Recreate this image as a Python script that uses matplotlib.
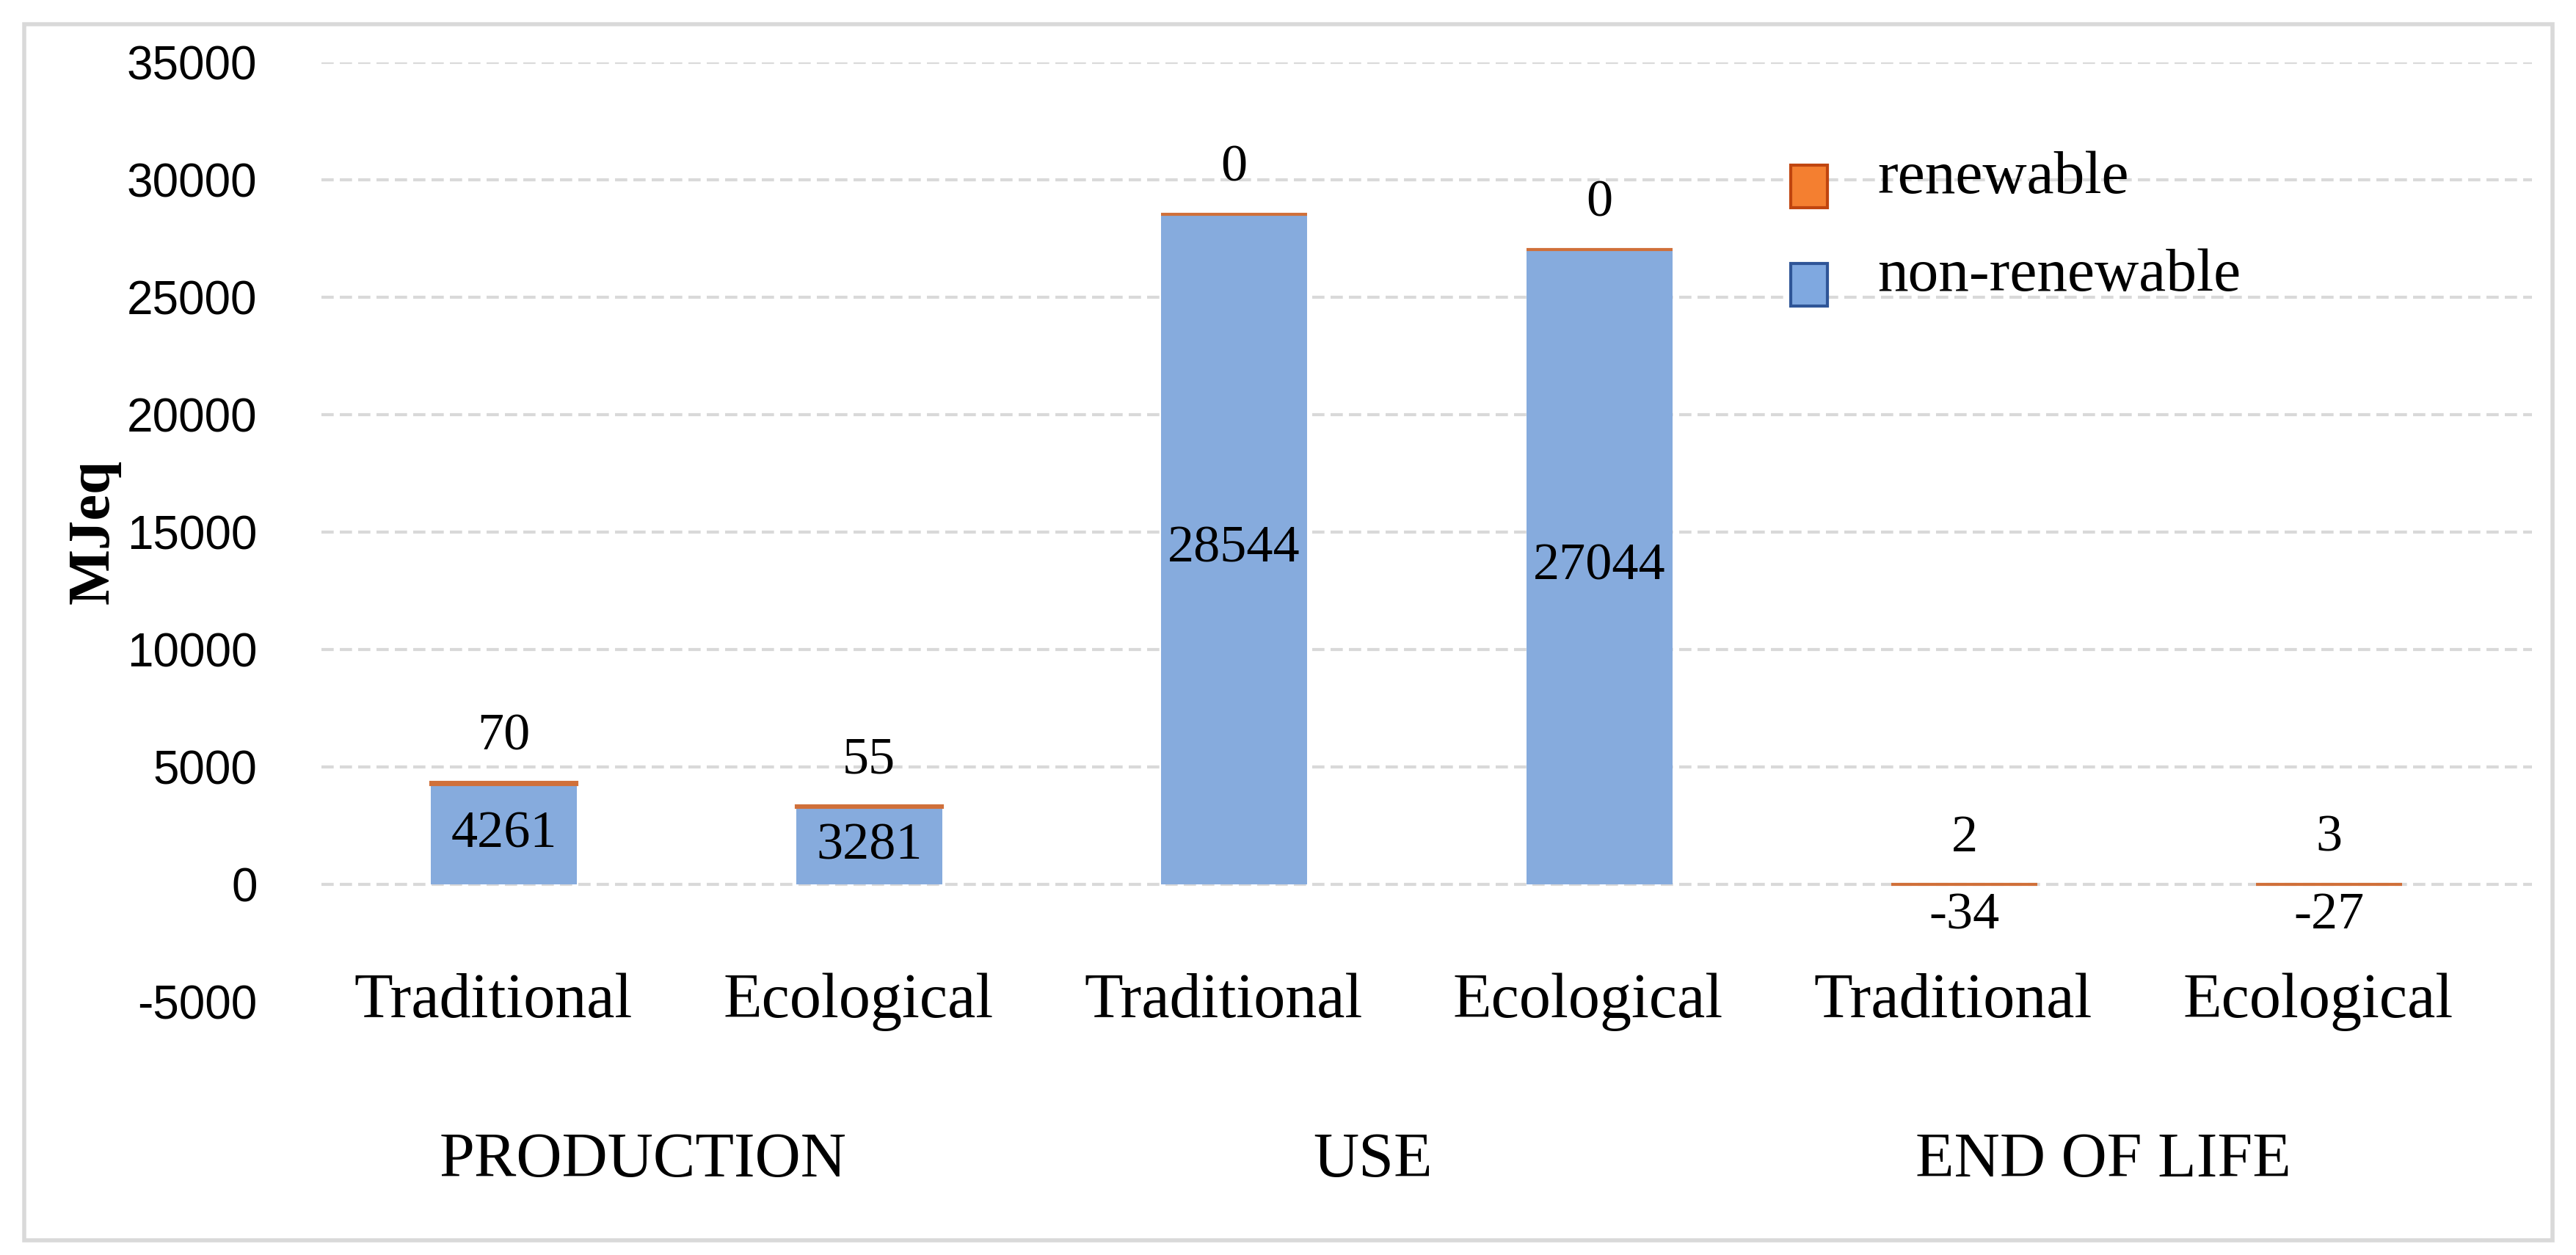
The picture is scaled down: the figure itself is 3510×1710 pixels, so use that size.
import matplotlib
matplotlib.use("Agg")
import matplotlib.pyplot as plt
import matplotlib.transforms as mtransforms
from matplotlib.patches import Patch, Rectangle
from matplotlib.legend_handler import HandlerPatch
import numpy as np

# dados
groups = ["PRODUCTION", "USE", "END OF LIFE"]
variants = ["Traditional", "Ecological", "Traditional", "Ecological", "Traditional", "Ecological"]
non_renewable = [4261, 3281, 28544, 27044, -34, -27]
renewable = [70, 55, 0, 0, 2, 3]
yticks = [-5000, 0, 5000, 10000, 15000, 20000, 25000, 30000, 35000]

BLUE = "#86ABDD"
ORANGE = "#ED7D31"
SERIF = "Liberation Serif"
SANS = "Liberation Sans"

fig = plt.figure(figsize=(35.1, 17.1), dpi=100)
ax = fig.add_axes([438 / 3510, 1 - 1365 / 1710, (3450 - 438) / 3510, 1280 / 1710])

x = np.arange(len(variants))
bottoms = [max(v, 0) for v in non_renewable]

ax.bar(x, non_renewable, width=0.4, color=BLUE, zorder=3)
ax.bar(x, renewable, width=0.4, bottom=bottoms, color=ORANGE,
       edgecolor="#D0703A", linewidth=3, zorder=4)

# rotulos dos valores
for i in range(len(x)):
    nr = non_renewable[i]
    top = bottoms[i] + renewable[i]
    ax.annotate(str(renewable[i]), (x[i], top), xytext=(0, 45), textcoords="offset points",
                ha="center", va="center", fontsize=52, family=SERIF, zorder=5)
    if nr > 0:
        ax.text(x[i], nr / 2, str(nr), ha="center", va="center", fontsize=52,
                family=SERIF, zorder=5)
    else:
        ax.annotate(str(nr), (x[i], nr), xytext=(0, -30), textcoords="offset points",
                    ha="center", va="center", fontsize=52, family=SERIF, zorder=5)

# grade um pouco alem da ultima categoria, como no original
ax.set_xlim(-0.5, len(x) - 0.5 + 0.055)
ax.set_ylim(-5000, 35000)
ax.set_yticks(yticks)
ax.set_yticklabels([str(t) for t in yticks], fontsize=46, family=SANS)
ax.tick_params(axis="y", length=0, pad=63)
ax.set_xticks([])

ax.grid(axis="y", color="#D9D9D9", linestyle=(0, (4, 2)), linewidth=3, zorder=0)
ax.get_ygridlines()[0].set_visible(False)
for s in ax.spines.values():
    s.set_visible(False)

# rotulos das categorias
for i, lab in enumerate(variants):
    ax.text(x[i] - 0.03, -5000, lab, ha="center", va="center", fontsize=62, family=SERIF)

trans = mtransforms.blended_transform_factory(ax.transData, ax.transAxes)
for g, name in enumerate(groups):
    ax.text(2 * g + 0.5 - 0.12, -0.17, name, transform=trans, ha="center", va="center",
            fontsize=62, family=SERIF)

ax.set_ylabel("MJeq", fontsize=58, family=SERIF, fontweight="bold")
ax.yaxis.set_label_coords(-0.0906, 0.5)


def low_square(legend, orig_handle, xdescent, ydescent, width, height, fontsize):
    # marcador um pouco abaixo do texto, como no Excel
    return Rectangle((-xdescent, -ydescent - 0.45 * height), width, height * 1.1)


handles = [Patch(facecolor="#F47F30", edgecolor="#C0450F", linewidth=3),
           Patch(facecolor="#7FA8E0", edgecolor="#2F5597", linewidth=3)]
ax.legend(handles, ["renewable", "non-renewable"], loc="upper left",
          bbox_to_anchor=(2365 / 3510, 1 - 130 / 1710), bbox_transform=fig.transFigure,
          frameon=False, prop={"family": SERIF, "size": 60},
          handlelength=0.6, handleheight=0.6, handletextpad=0.82, labelspacing=0.7,
          handler_map={Patch: HandlerPatch(patch_func=low_square)})

# moldura
fig.patches.append(Rectangle((33 / 3510, 1 - 1690 / 1710), (3478 - 33) / 3510, (1690 - 33) / 1710,
                             transform=fig.transFigure, fill=False, edgecolor="#D9D9D9", linewidth=4))

plt.savefig("out.png", dpi=100)
